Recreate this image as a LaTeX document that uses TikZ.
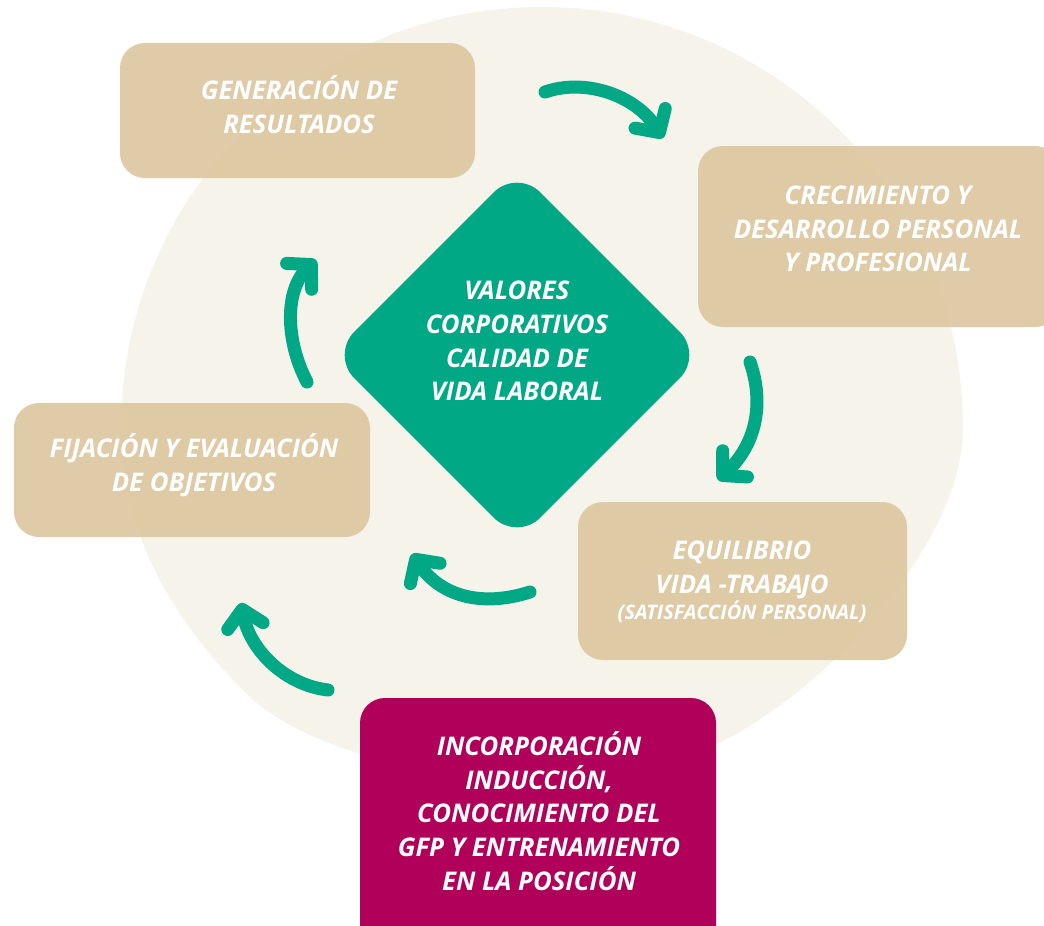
\documentclass[tikz,border=0pt]{standalone}
\usepackage{fontspec}
\setmainfont{Open Sans}
\usetikzlibrary{arrows.meta}
\definecolor{cream}{HTML}{F6F3EB}
\definecolor{beige}{HTML}{DDC7A0}
\definecolor{vgreen}{HTML}{00A886}
\definecolor{mag}{HTML}{B0005A}
\begin{document}
\begin{tikzpicture}[x=1pt,y=-1pt,
  box/.style={fill=beige, fill opacity=0.92, rounded corners=25pt, inner sep=0pt, minimum width=#1},
  lbl/.style={text=white, align=center, inner sep=0pt, font=\fontsize{25.7}{33.8}\selectfont\bfseries\itshape},
  flow/.style={draw=vgreen, line width=13pt, line cap=round, -{Straight Barb[length=17pt,width=36pt,round]}}]
\useasboundingbox (0,0) rectangle (1044,926);
\clip (0,0) rectangle (1044,926);
\fill[white] (0,0) rectangle (1044,926);
% background disc
\fill[cream] (121,428) arc[start angle=180, end angle=360, radius=421]
  .. controls (963,540) and (830,690) .. (715,745)
  .. controls (620,800) and (360,790) .. (253,700)
  .. controls (170,620) and (121,530) .. (121,428) -- cycle;
% boxes
\node[box=355pt, minimum height=135pt] (gen) at (297.5,110.5) {};
\node[box=362pt, minimum height=181pt] (cre) at (879,236.5) {};
\node[box=329pt, minimum height=158pt] (equ) at (742.5,581) {};
\node[box=356pt, minimum height=134pt] (fij) at (192,470) {};
\node[box=356pt, minimum height=260pt, fill=mag, fill opacity=1] (inc) at (538,828) {};
% central diamond
\node[rectangle, rotate=45, minimum width=263pt, minimum height=263pt, inner sep=0pt, fill=vgreen, rounded corners=33pt] (dia) at (517,355) {};
% labels
\node[lbl] (diat) at (517,341) {VALORES\\CORPORATIVOS\\CALIDAD DE\\VIDA LABORAL};
\node[lbl] (gent) at (299,105) {GENERACIÓN DE\\RESULTADOS};
\node[lbl] (cret) at (878,229) {CRECIMIENTO Y\\DESARROLLO PERSONAL\\Y PROFESIONAL};
\node[lbl] (fijt) at (194,465) {FIJACIÓN Y EVALUACIÓN\\DE OBJETIVOS};
\node[lbl] (equt) at (742,582) {EQUILIBRIO\\VIDA -TRABA\kern-1.5ptJO\\[-8pt]{\fontsize{20}{24}\selectfont (SATISFACCIÓN PERSONAL)}};
\node[lbl] (inct) at (539,811) {INCORPORACIÓN\\INDUCCIÓN,\\CONOCIMIENTO DEL\\GFP Y ENTRENAMIENTO\\EN LA POSICIÓN};
% arrows
\coordinate (a1s) at (545,92);  \coordinate (a1e) at (663,138);
\coordinate (a2s) at (750,362); \coordinate (a2e) at (718,480);
\coordinate (a3s) at (530,592); \coordinate (a3e) at (412,554);
\coordinate (a4s) at (328,690); \coordinate (a4e) at (241,603);
\coordinate (a5s) at (307,382); \coordinate (a5e) at (316,260);
\draw[flow] (a1s) .. controls (585,78) and (635,95) .. (a1e);
\draw[flow] (a2s) .. controls (765,405) and (755,445) .. (a2e);
\draw[flow] (a3s) .. controls (480,608) and (440,595) .. (a3e);
\draw[flow] (a4s) .. controls (285,685) and (250,650) .. (a4e);
\draw[flow] (a5s) .. controls (285,340) and (285,290) .. (a5e);
\end{tikzpicture}
\end{document}
